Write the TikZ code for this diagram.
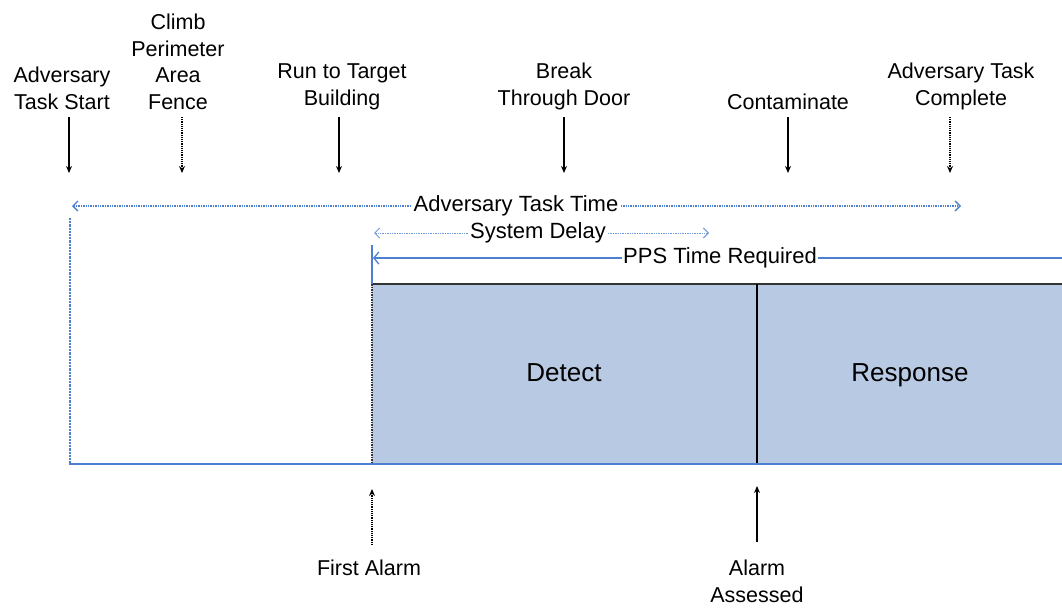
\documentclass[tikz,border=0pt]{standalone}
\usepackage{fontspec}
\setmainfont{Liberation Sans}
\usetikzlibrary{arrows.meta}
\definecolor{lineblue}{HTML}{4F7FD0}
\definecolor{boxfill}{HTML}{B8C9E3}
\definecolor{edge}{HTML}{333333}
\tikzset{
  toplab/.style={align=center, font=\fontsize{21.5}{26.7}\selectfont, inner sep=0pt},
  spanlab/.style={font=\fontsize{22}{24}\selectfont, fill=white, inner sep=1.5pt},
  boxlab/.style={font=\fontsize{26}{30}\selectfont, anchor=base},
  evarrow/.style={-{Stealth[length=7pt,width=6pt]}, line width=1.2pt, black},
  evdotted/.style={evarrow, densely dotted},
  spanarrow/.style={{Straight Barb[length=5pt,width=10pt]}-{Straight Barb[length=5pt,width=10pt]}, lineblue, line width=1.4pt, densely dotted},
}
\begin{document}
\begin{tikzpicture}[x=1pt,y=-1pt]
\useasboundingbox (0,0) rectangle (1062,608);
% box
\fill[boxfill] (372,284) rectangle (1062,464);
\draw[edge, line width=2pt] (372,284) -- (1062,284);
\draw[edge, line width=1.5pt, densely dotted] (372,284) -- (372,464);
\draw[black, line width=1.5pt] (757,284) -- (757,464);
\node[boxlab] (detect) at (564,381) {Detect};
\node[boxlab] (resp) at (910,381) {Response};
% blue frame
\draw[lineblue, line width=2.2pt, densely dotted] (70,218) -- (70,464);
\draw[lineblue, line width=2pt] (69,464) -- (1062,464);
\draw[lineblue, line width=2.5pt] (372,245) -- (372,284);
% spans
\coordinate (attL) at (72,206);
\coordinate (attR) at (961,206);
\draw[spanarrow] (attL) -- (attR);
\node[spanlab] (att) at (516,206) {Adversary Task Time};
\coordinate (sdL) at (374,233);
\coordinate (sdR) at (709,233);
\draw[spanarrow, line width=1pt, lineblue!80] (sdL) -- (sdR);
\node[spanlab] (sd) at (538,233) {System Delay};
\coordinate (ppsL) at (373,258);
\coordinate (ppsR) at (1062,258);
\draw[{Straight Barb[length=5pt,width=12pt]}-, lineblue, line width=1.3pt] (ppsL) -- (ppsR);
\node[spanlab] (pps) at (720,258) {PPS Time Required};
% top labels
\node[toplab, anchor=south] (l1) at (62,110) {Adversary\\Task Start};
\node[toplab, anchor=south] (l2) at (178,110) {Climb\\Perimeter\\Area\\Fence};
\node[toplab, anchor=south] (l3) at (342,110) {Run to Target\\Building};
\node[toplab, anchor=south] (l4) at (564,110) {Break\\Through Door};
\node[toplab, anchor=south] (l5) at (788,110) {Contaminate};
\node[toplab, anchor=south] (l6) at (961,110) {Adversary Task\\Complete};
\coordinate (e1s) at (69,117); \coordinate (e1e) at (69,173);
\coordinate (e2s) at (182,117); \coordinate (e2e) at (182,173);
\coordinate (e3s) at (339,117); \coordinate (e3e) at (339,173);
\coordinate (e4s) at (564,117); \coordinate (e4e) at (564,173);
\coordinate (e5s) at (788,117); \coordinate (e5e) at (788,173);
\coordinate (e6s) at (950,117); \coordinate (e6e) at (950,173);
\draw[evarrow] (e1s) -- (e1e);
\draw[evdotted] (e2s) -- (e2e);
\draw[evarrow] (e3s) -- (e3e);
\draw[evarrow] (e4s) -- (e4e);
\draw[evarrow] (e5s) -- (e5e);
\draw[evdotted] (e6s) -- (e6e);
% bottom labels
\node[toplab, anchor=north] (b1) at (369,560) {First Alarm};
\node[toplab, anchor=north] (b2) at (757,560) {Alarm\\Assessed};
\coordinate (f1s) at (372,545); \coordinate (f1e) at (372,489);
\coordinate (f2s) at (757,542); \coordinate (f2e) at (757,486);
\draw[evdotted] (f1s) -- (f1e);
\draw[evarrow] (f2s) -- (f2e);
\end{tikzpicture}
\end{document}
